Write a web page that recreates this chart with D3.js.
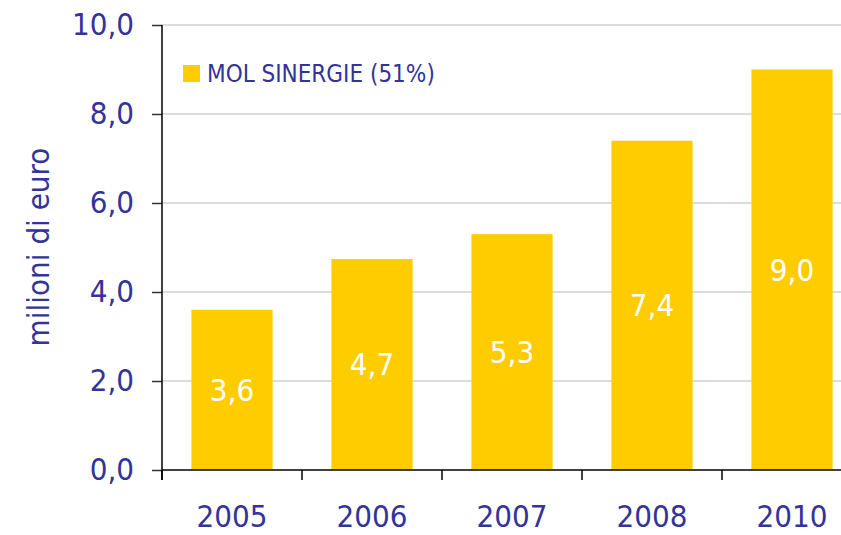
<!DOCTYPE html>
<html><head><meta charset="utf-8">
<script src="https://cdn.jsdelivr.net/npm/d3@7"></script>
<style>body{margin:0;background:#fff}</style>
</head><body>
<svg id="c" width="841" height="535"></svg>
<script>
const categories = ["2005","2006","2007","2008","2010"];
const values = [3.6, 4.74, 5.3, 7.4, 9.0];
const yTicks = [0, 2, 4, 6, 8, 10];
const seriesName = "MOL SINERGIE (51%)";
const yTitle = "milioni di euro";

const blue = "#333399", gold = "#FFCC00";
const font = "'DejaVu Sans Condensed', 'Liberation Sans Narrow', sans-serif";
const svg = d3.select("#c");
const x0 = 162, step = 140;
const x = d3.scaleBand().domain(categories).range([x0, x0 + step*categories.length]).paddingInner(0.42).paddingOuter(0.21);
const y = d3.scaleLinear().domain([0, 10]).range([470, 25]);
const fmt = v => d3.format(".1f")(v).replace(".", ",");

// gridlines
svg.append("g").selectAll("line").data(yTicks.filter(d=>d>0)).join("line")
  .attr("x1", x0).attr("x2", 841).attr("y1", d=>y(d)).attr("y2", d=>y(d))
  .attr("stroke", "#d0d0d0").attr("stroke-width", 1.5);

// bars
svg.append("g").selectAll("rect").data(values).join("rect")
  .attr("x", (d,i)=>x(categories[i])).attr("width", x.bandwidth())
  .attr("y", d=>y(d)).attr("height", d=>y(0)-y(d)).attr("fill", gold);

// bar labels
svg.append("g").selectAll("text").data(values).join("text")
  .attr("x", (d,i)=>x(categories[i]) + x.bandwidth()/2)
  .attr("y", d=>y(d/2)).attr("dy", "0.35em").attr("text-anchor", "middle")
  .attr("fill", "#fff").style("font-family", font).style("font-size", "31px")
  .text(d=>fmt(d));

// y axis
const ya = svg.append("g").attr("transform", `translate(${x0},0)`)
  .call(d3.axisLeft(y).tickValues(yTicks).tickFormat(fmt).tickSize(10).tickPadding(18));
ya.select(".domain").remove();
ya.selectAll(".tick line").attr("stroke", "#333").attr("stroke-width", 1.5);
ya.selectAll("text").attr("fill", blue).style("font-family", font).style("font-size", "31px");
svg.append("line").attr("x1", x0).attr("x2", x0).attr("y1", y(10)).attr("y2", 480).attr("stroke", "#000").attr("stroke-width", 1.5);

// x axis
const xTickPos = d3.range(categories.length+1).map(i => x0 + i*step);
svg.append("line").attr("x1", x0).attr("x2", 841).attr("y1", y(0)).attr("y2", y(0)).attr("stroke", "#000").attr("stroke-width", 1.5);
svg.append("g").selectAll("line").data(xTickPos).join("line")
  .attr("x1", d=>d).attr("x2", d=>d).attr("y1", y(0)).attr("y2", 480).attr("stroke", "#000").attr("stroke-width", 1.5);
svg.append("g").selectAll("text").data(categories).join("text")
  .attr("x", d=>x(d)+x.bandwidth()/2).attr("y", 527).attr("text-anchor","middle")
  .attr("fill", blue).style("font-family", font).style("font-size", "31px").text(d=>d);

// y title
svg.append("text").attr("transform", "translate(38,247) rotate(-90)").attr("dy","0.35em")
  .attr("text-anchor","middle").attr("fill", blue).style("font-family", font).style("font-size", "31px").text(yTitle);

// legend
svg.append("rect").attr("x", 183).attr("y", 65).attr("width", 17).attr("height", 17).attr("fill", gold);
svg.append("text").attr("x", 207).attr("y", 74).attr("dy","0.35em").attr("fill", blue)
  .style("font-family", font).style("font-size", "24px").text(seriesName);
</script>
</body></html>
